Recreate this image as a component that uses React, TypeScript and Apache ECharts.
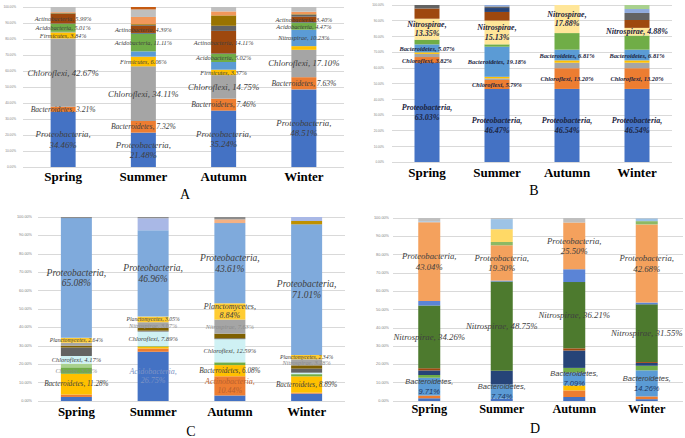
import React, { useEffect, useRef } from "react";
import * as echarts from "echarts";

const SERIF = "'Liberation Serif', 'Times New Roman', serif";
const SANS = "'Liberation Sans', Arial, sans-serif";

const seasons = ["Spring", "Summer", "Autumn", "Winter"];

// ---------- Panel A ----------
const aNames = ["Proteobacteria", "Bacteroidetes", "Chloroflexi", "Firmicutes", "Nitrospirae", "Acidobacteria", "Other 1", "Actinobacteria", "Other 2", "Other 3", "Other 4", "Other 5", "Other 6"];
const aColors = ["#4472C4", "#ED7D31", "#A5A5A5", "#FFC000", "#5B9BD5", "#70AD47", "#264478", "#9E480E", "#636363", "#997300", "#F1975A", "#BFBFBF", "#C55A11"];
const aSpring = [34.46, 3.21, 42.67, 3.84, 0.3, 5.01, 0.2, 5.99, 0.3, 0.3, 0.5, 3.22, 0];
const aSummer = [21.48, 7.32, 34.11, 6.06, 3.3, 11.11, 0.4, 4.39, 0.5, 0.6, 4.5, 4.7, 1.53];
const aAutumn = [35.24, 7.46, 14.75, 3.37, 4.8, 5.02, 0.3, 14.11, 3.2, 6.5, 2.5, 2.75, 0];
const aWinter = [48.51, 7.63, 17.1, 2.3, 10.23, 4.47, 0.3, 3.4, 1.3, 0.3, 1.5, 2.96, 0];
// [series, season, style, wrap]
const aLabels: [number, number, string, boolean][] = [
  [0, 0, "big", true], [1, 0, "mid", false], [2, 0, "big", false], [3, 0, "small", false], [5, 0, "small", false], [7, 0, "small", false],
  [0, 1, "big", true], [1, 1, "mid", false], [2, 1, "big", false], [3, 1, "small", false], [5, 1, "small", false], [7, 1, "small", false],
  [0, 2, "big", true], [1, 2, "mid", false], [2, 2, "big", false], [3, 2, "small", false], [5, 2, "small", false], [7, 2, "small", false],
  [0, 3, "big", true], [1, 3, "mid", false], [2, 3, "big", false], [4, 3, "small", false], [5, 3, "small", false], [7, 3, "small", false],
];

// ---------- Panel B ----------
const bNames = ["Proteobacteria", "Chloroflexi", "Other 1", "Other 2", "Bacteroidetes", "Other 3", "Nitrospirae", "Other 4", "Other 5", "Other 6", "Other 7", "Other 8"];
const bColors = ["#4472C4", "#ED7D31", "#A5A5A5", "#FFC000", "#5B9BD5", "#70AD47", "#FFE699", "#9E480E", "#264478", "#636363", "#8FAADC", "#A9D18E"];
const bSpring = [63.03, 3.82, 2.0, 1.0, 5.07, 3.0, 13.35, 6.5, 0, 2.23, 0, 0];
const bSummer = [46.47, 5.79, 1.0, 1.0, 19.18, 1.5, 15.13, 5.5, 2.5, 1.0, 0.93, 0];
const bAutumn = [46.54, 13.2, 3.5, 1.5, 6.81, 10.57, 17.88, 0, 0, 0, 0, 0];
const bWinter = [46.54, 13.2, 3.5, 1.5, 6.81, 9.0, 4.88, 5.0, 0, 4.5, 2.5, 2.57];
const bLabels: [number, number, string, boolean][] = [
  [0, 0, "big", true], [1, 0, "small", false], [4, 0, "small", false], [6, 0, "big", true],
  [0, 1, "big", true], [1, 1, "small", false], [4, 1, "small", false], [6, 1, "big", true],
  [0, 2, "big", true], [1, 2, "small", false], [4, 2, "small", false], [6, 2, "big", true],
  [0, 3, "big", true], [1, 3, "small", false], [4, 3, "small", false], [6, 3, "big", false],
];

// ---------- Panel C ----------
const cNames = ["Acidobacteria", "Actinobacteria", "Bacteroidetes", "Chlorobi", "Other 1", "Chloroflexi", "Other 2", "Other 3", "Nitrospirae", "Planctomycetes", "Proteobacteria", "Other 4", "Other 5", "Other 6", "Other 7"];
const cColors = ["#4472C4", "#ED7D31", "#FFC000", "#70AD47", "#A9D18E", "#CFF1F4", "#636363", "#7F6000", "#A5A5A5", "#FFCC33", "#7FAADC", "#BF9000", "#A9B8E6", "#F4B183", "#8C8C8C"];
const cSpring = [2.2, 1.3, 11.28, 3.52, 2.0, 4.17, 4.6, 1.0, 1.6, 2.64, 65.08, 0, 0, 0, 0.61];
const cSummer = [26.75, 1.8, 1.0, 0.3, 0, 7.89, 0.5, 1.5, 3.07, 3.05, 46.96, 0, 6.5, 0, 0.68];
const cAutumn = [3.0, 10.44, 6.08, 1.5, 0, 12.59, 0.5, 2.5, 7.63, 8.84, 43.61, 0, 0, 2.0, 1.31];
const cWinter = [4.0, 0.5, 8.89, 1.2, 0, 0.8, 2.2, 1.8, 3.28, 2.34, 71.01, 1.8, 2.18, 0, 0];
const cLabels: [number, number, string, boolean][] = [
  [2, 0, "mid", false], [3, 0, "grey", false], [5, 0, "small", false], [9, 0, "tiny", false], [10, 0, "big", true],
  [0, 1, "acid", true], [5, 1, "small", false], [8, 1, "grey", false], [9, 1, "tiny", false], [10, 1, "big", true],
  [1, 2, "actino", true], [2, 2, "mid", false], [5, 2, "small", false], [8, 2, "grey", false], [9, 2, "plancto", true], [10, 2, "big", true],
  [2, 3, "mid", false], [8, 3, "grey", false], [9, 3, "tiny", false], [10, 3, "big", true],
];

// ---------- Panel D ----------
const dNames = ["Other 1", "Other 2", "Other 3", "Bacteroidetes", "Other 4", "Other 5", "Other 6", "Nitrospirae", "Other 7", "Proteobacteria", "Other 8", "Other 9", "Other 10", "Other 11"];
const dColors = ["#4472C4", "#ED7D31", "#FFC000", "#5B9BD5", "#70AD47", "#264478", "#9E480E", "#4D7A2E", "#5B84D6", "#F4A15D", "#8DB964", "#FFD966", "#9DC3E6", "#BFBFBF"];
const dSpring = [1.5, 1.5, 0, 9.71, 1.5, 2.5, 1.2, 34.26, 2.5, 43.04, 0, 0, 0.5, 1.79];
const dSummer = [1.3, 0, 0, 7.74, 0, 7.5, 0, 48.75, 0.5, 19.3, 1.8, 7.0, 5.5, 0.61];
const dAutumn = [2.2, 3.6, 2.7, 7.09, 2.5, 9.5, 1.2, 36.21, 7.0, 25.5, 0, 0, 0, 2.5];
const dWinter = [1.0, 1.5, 0, 14.26, 2.5, 1.5, 0.5, 31.55, 1.0, 42.68, 1.8, 0, 1.5, 0.21];
const dLabels: [number, number, string, boolean][] = [
  [3, 0, "bact", true], [7, 0, "nitro", false], [9, 0, "big", true],
  [3, 1, "bact", true], [7, 1, "nitro", false], [9, 1, "big", true],
  [3, 2, "bact", true], [7, 2, "nitro", false], [9, 2, "big", true],
  [3, 3, "bact", true], [7, 3, "nitro", false], [9, 3, "big", true],
];

const noBorder = { textBorderWidth: 0, textBorderColor: "transparent", textShadowBlur: 0 };

const it = (size: number, color: string, extra: any = {}) => ({
  fontFamily: SERIF, fontStyle: "italic", fontSize: size, color, lineHeight: size * 1.18, ...noBorder, ...extra,
});

const aStyles: any = {
  big: it(8.8, "#404040"),
  mid: it(7.6, "#404040"),
  small: it(6.3, "#404040"),
};
const bStyles: any = {
  big: it(8, "#1C2541", { fontWeight: "bold", lineHeight: 9.5 }),
  small: it(6.4, "#1C2541", { fontWeight: "bold" }),
};
const cStyles: any = {
  big: it(9.5, "#404040", { lineHeight: 10.8 }),
  mid: it(7.2, "#404040"),
  small: it(6.5, "#404040"),
  grey: it(6.3, "#8C8C8C"),
  tiny: it(5.7, "#404040"),
  acid: it(8, "#7C93C4", { lineHeight: 9 }),
  actino: it(8, "#B9602E", { lineHeight: 9 }),
  plancto: it(8, "#404040", { lineHeight: 9 }),
};
const dStyles: any = {
  big: it(8.7, "#404040", { lineHeight: 10.5 }),
  nitro: it(8.8, "#404040"),
  bact: {
    rich: true,
    style: {
      lineHeight: 10,
      ...noBorder,
      rich: {
        n: { fontFamily: SANS, fontStyle: "italic", fontSize: 7.5, color: "#404040", lineHeight: 10, ...noBorder },
        v: { fontFamily: SANS, fontStyle: "italic", fontSize: 7.5, color: "#1F3864", lineHeight: 10, ...noBorder },
      },
    },
  },
};

function panelSeries(key: string, gi: number, names: string[], colors: string[], vals: number[][], labels: [number, number, string, boolean][], styles: any, barWidth: number) {
  return names.map((name, i) => ({
    type: "bar",
    name,
    stack: key,
    xAxisIndex: gi,
    yAxisIndex: gi,
    barWidth,
    silent: true,
    itemStyle: { color: colors[i] },
    data: vals.map((season, j) => {
      const v = season[i];
      const spec = labels.find((l) => l[0] === i && l[1] === j);
      if (!spec || !v) return v;
      const st = styles[spec[2]];
      const num = v.toFixed(2) + "%";
      if (st.rich) {
        return { value: v, label: { show: true, position: "inside", formatter: `{n|${name},}\n{v|${num}}`, ...st.style } };
      }
      const text = `${name},${spec[3] ? "\n" : " "}${num}`;
      return { value: v, label: { show: true, position: "inside", formatter: text, ...st } };
    }),
  }));
}

const grids = [
  { left: 23, top: 7, width: 321, height: 160 },
  { left: 392, top: 5, width: 280, height: 157 },
  { left: 38, top: 217, width: 307, height: 184 },
  { left: 393, top: 218, width: 290, height: 183 },
];
const yLabelSize = [3.2, 3.0, 3.8, 3.8];
const yLabelMargin = [7, 8, 6, 4];
const xLabelSize = [13, 13, 12.8, 12.3];
const xLabelMargin = [3, 4, 4, 2];

export default function App() {
  const ref = useRef<HTMLDivElement>(null);
  useEffect(() => {
    if (!ref.current) return;
    const chart = echarts.init(ref.current, null, { renderer: "svg" });
    const option: any = {
      animation: false,
      backgroundColor: "#ffffff",
      grid: grids.map((g) => ({ ...g, containLabel: false })),
      xAxis: grids.map((_, gi) => ({
        type: "category",
        gridIndex: gi,
        data: seasons,
        axisLine: { show: false },
        axisTick: { show: false },
        axisLabel: { fontFamily: SERIF, fontWeight: "bold", fontSize: xLabelSize[gi], color: "#000000", margin: xLabelMargin[gi] },
      })),
      yAxis: grids.map((_, gi) => ({
        type: "value",
        gridIndex: gi,
        min: 0,
        max: 100,
        interval: 10,
        axisLine: { show: false },
        axisTick: { show: false },
        splitLine: { lineStyle: { color: "#D9D9D9", width: 1 } },
        axisLabel: { formatter: (v: number) => v.toFixed(2) + "%", fontFamily: SANS, fontSize: yLabelSize[gi], color: "#7F7F7F", margin: yLabelMargin[gi] },
      })),
      series: [
        ...panelSeries("A", 0, aNames, aColors, [aSpring, aSummer, aAutumn, aWinter], aLabels, aStyles, 25),
        ...panelSeries("B", 1, bNames, bColors, [bSpring, bSummer, bAutumn, bWinter], bLabels, bStyles, 25),
        ...panelSeries("C", 2, cNames, cColors, [cSpring, cSummer, cAutumn, cWinter], cLabels, cStyles, 31),
        ...panelSeries("D", 3, dNames, dColors, [dSpring, dSummer, dAutumn, dWinter], dLabels, dStyles, 22),
      ],
      graphic: [
        { type: "text", x: 185, y: 194, style: { text: "A", fontFamily: SERIF, fontSize: 14, fill: "#000", textAlign: "center", textVerticalAlign: "middle" } },
        { type: "text", x: 534, y: 190, style: { text: "B", fontFamily: SERIF, fontSize: 14, fill: "#000", textAlign: "center", textVerticalAlign: "middle" } },
        { type: "text", x: 191, y: 431, style: { text: "C", fontFamily: SERIF, fontSize: 14, fill: "#000", textAlign: "center", textVerticalAlign: "middle" } },
        { type: "text", x: 535, y: 428, style: { text: "D", fontFamily: SERIF, fontSize: 14, fill: "#000", textAlign: "center", textVerticalAlign: "middle" } },
      ],
    };
    chart.setOption(option);
    return () => chart.dispose();
  }, []);
  return <div ref={ref} style={{ position: "absolute", left: 0, top: 0, width: 685, height: 438 }} />;
}
